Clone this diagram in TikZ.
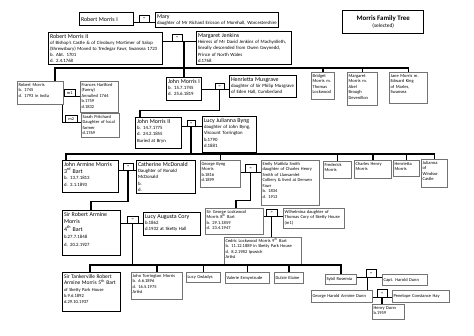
\documentclass[tikz,border=0pt]{standalone}
\usepackage{fontspec}
\setmainfont{Carlito}
\newcommand{\nm}{\fontsize{5.9}{6.2}\selectfont}

\begin{document}
\begin{tikzpicture}[x=1pt, y=-1pt,
    every node/.style={inner sep=1.3pt, anchor=north west, align=left},
    main/.style={draw, line width=1.4pt, text height=4.5pt, font=\fontsize{4.8}{6.2}\selectfont},
    side/.style={draw=black!55, line width=0.6pt, text height=3.5pt, font=\fontsize{4.5}{5.5}\selectfont},
    wed/.style={draw, line width=0.4pt, inner sep=0pt, align=center, minimum width=10pt, minimum height=7pt, font=\fontsize{4.3}{5}\selectfont},
    link/.style={line width=1.5pt}]
    \useasboundingbox (0,0) rectangle (474,335);

    % titul
    \node[main, text width=78.4pt, minimum height=23pt, align=center] (title) at (342,10)
        {{\fontsize{6.9}{8.5}\selectfont\bfseries Morris Family Tree}\\ {\fontsize{5.4}{6}\selectfont (selected)}};

    % první generace
    \node[main, text width=51.4pt, minimum height=13pt] (rm1) at (79,12) {\nm Robert Morris I};
    \node[wed] (eq1) at (139,15) {=};
    \node[main, text width=120.4pt, text depth=7.9pt] (mary) at (155,12)
        {{\nm Mary}\\ daughter of Mr Richard Ericson of Morehall, Worcestershire};

    \node[main, text width=111.4pt, text depth=24.9pt, font=\fontsize{4.8}{5.9}\selectfont] (rm2) at (48,32)
        {{\nm Robert Morris II}\\ of Bishop's Castle \& of Cleobury Mortimer of Salop\\ (Shrewsbury) Moved to Tredegar Fawr, Swansea 1723\\ b. Abt. 1701\\ d. 2.4.1768};
    \node[wed] (eq2) at (172,34) {=};
    \node[main, text width=92.4pt, text depth=25.9pt] (mj) at (196,31)
        {{\nm Margaret Jenkins}\\ Heiress of Mr David Jenkins of Machynlleth,\\ lineally descended from Owen Gwynedd,\\ Prince of North Wales\\ d.1768};

    % děti Roberta II
    \node[side, text width=43.4pt, text depth=16.9pt] (rm) at (17,81)
        {Robert Morris\\ b. 1745\\ d. 1793 in India};
    \node[wed, minimum width=11pt] (m1) at (64,89) {m1};
    \node[side, text width=35.4pt, text depth=24.9pt] (fh) at (80,81)
        {Frances Hartford\\ (Fanny)\\ Annulled 1764\\ b.1759\\ d.1832};
    \node[wed, minimum width=12pt] (m2) at (65,115) {m2};
    \node[side, text width=35.4pt, text depth=17.9pt] (sp) at (81,113)
        {Sarah Pritchard\\ Daughter of local\\ farmer\\ d.1769};

    \node[main, text width=32.4pt, text depth=15.9pt] (jm1) at (166,77)
        {{\nm John Morris I}\\ b. 15.7.1745\\ d. 25.6.1819};
    \node[wed, minimum width=9pt, minimum height=6pt] (eq3) at (215,83) {=};
    \node[main, text width=64.4pt, text depth=14.9pt] (hm) at (229,75)
        {{\nm Henrietta Musgrave}\\ daughter of Sir Philip Musgrave\\ of Eden Hall, Cumberland};

    \node[side, text width=20.4pt, text depth=20.9pt] (bm) at (311,72)
        {Bridget\\ Morris m.\\ Thomas\\ Lockwood};
    \node[side, text width=27.4pt, text depth=26.9pt] (mm) at (347,72)
        {Margaret\\ Morris m.\\ Abel\\ Brough\\ Devenillon};
    \node[side, text width=35.4pt, text depth=24.9pt] (jnm) at (389,72)
        {Jane Morris m.\\ Edward King\\ of Marles,\\ Swansea};

    % John Morris II
    \node[main, text width=43.4pt, text depth=23.9pt] (jm2) at (135,117)
        {{\nm John Morris II}\\ b. 14.7.1775\\ d. 24.2.1855\\ Buried at Bryn};
    \node[wed, minimum width=8pt, minimum height=6pt] (eq4) at (187,120) {=};
    \node[main, text width=51.4pt, text depth=28.9pt] (ljb) at (202,116)
        {{\nm Lucy Julianna Byng}\\ daughter of John Byng,\\ Viscount Torrington\\ b.1790\\ d.1881};

    % jejich děti
    \node[main, text width=53.4pt, text depth=24.9pt, font=\fontsize{4.8}{6.6}\selectfont] (jam) at (62,160)
        {{\nm John Armine Morris}\\ {\nm 3\textsuperscript{rd} Bart}\\ b. 13.7.1813\\ d. 3.1.1893};
    \node[wed] (eq5) at (123,163) {=};
    \node[main, text width=56.4pt, text depth=25.9pt] (cmd) at (136,160)
        {{\nm Catherine McDonald}\\ Daughter of Ronald\\ McDonald\\ b.\\ d.};
    \node[side, text width=37.4pt, text depth=20.9pt] (gbm) at (200,160)
        {George Byng\\ Morris\\ b.1816\\ d.1899};
    \node[wed, minimum width=11pt, minimum height=8pt] (eq6) at (245,164) {=};
    \node[side, text width=55.4pt, text depth=38.9pt] (ems) at (261,160)
        {Emily Matilda Smith\\ daughter of Charles Henry\\ Smith of Llansamlet\\ Colliery \& lived at Derwen\\ Fawr\\ b. 1834\\ d. 1913};
    \node[side, text width=25.4pt, text depth=10.9pt] (fm) at (323,161) {Frederick\\ Morris};
    \node[side, text width=34.4pt, text depth=11.9pt] (chm) at (354,160) {Charles Henry\\ Morris};
    \node[side, text width=23.4pt, text depth=9.9pt] (hm2) at (393,160) {Henrietta\\ Morris};
    \node[side, text width=23.4pt, text depth=21.9pt] (jw) at (421,159) {Julianna\\ of\\ Windsor\\ Castle};

    % další generace
    \node[main, text width=55.4pt, text depth=37.9pt, font=\fontsize{4.8}{7.4}\selectfont] (sra) at (62,210)
        {{\nm Sir Robert Armine}\\ {\nm Morris}\\ {\nm 4\textsuperscript{th} Bart}\\ b.27.7.1848\\ d. 20.2.1927};
    \node[wed, minimum width=11pt] (eq7) at (127,216) {=};
    \node[main, text width=54.4pt, text depth=15.9pt] (lac) at (143,212)
        {{\nm Lucy Augusta Cory}\\ b.1862\\ d.1932 at Sketty Hall};

    \node[side, text width=55.4pt, text depth=19.9pt] (sgm) at (205,208)
        {Sir George Lockwood\\ Morris 8\textsuperscript{th} Bart\\ b. 29.1.1859\\ d. 23.4.1947};
    \node[wed, minimum width=11pt] (eq8) at (266,209) {=};
    \node[side, text width=58.4pt, text depth=13.9pt] (wh) at (283,208)
        {Wilhelmina daughter of\\ Thomas Cory of Sketty House\\ (m1)};
    \node[side, text width=74.4pt, text depth=20.9pt] (clm) at (224,237)
        {Cedric Lockwood Morris 9\textsuperscript{th} Bart\\ b. 11.12.1889 in Sketty Park House\\ d. 8.2.1982 Ipswich\\ Artist};

    \node[main, text width=55.4pt, text depth=31.9pt, font=\fontsize{4.6}{6.3}\selectfont] (stm) at (62,272)
        {{\fontsize{5.5}{6}\selectfont Sir Tankerville Robert}\\ {\fontsize{5.5}{6}\selectfont Armine Morris 5\textsuperscript{th} Bart}\\ of Sketty Park House\\ b.9.6.1892\\ d.29.10.1937};
    \node[side, text width=48.4pt, text depth=20.9pt] (jtm) at (131,272)
        {John Torrington Morris\\ b. 6.6.1896\\ d. 16.5.1975\\ Artist};
    \node[side, text width=31.4pt, minimum height=10pt] (lg) at (186,272) {Lucy Gwladys};
    \node[side, text width=41.4pt, minimum height=11pt] (ve) at (225,272) {Valerie Ermyntrude};
    \node[side, text width=26.4pt, minimum height=11pt] (de) at (274,272) {Dulcie Elaine};
    \node[side, text width=28.4pt, minimum height=10pt] (sr) at (325,274) {Sybil Rosemia};

    \node[wed, minimum height=8pt] (eq9) at (366,269) {=};
    \node[side, text width=42.4pt, minimum height=11pt] (chd) at (382,274) {Capt. Harold Dunn};
    \node[side, text width=58.4pt, minimum height=12pt] (ghd) at (311,290) {George Harold Armine Dunn};
    \node[wed, minimum height=8pt] (eq10) at (377,289) {=};
    \node[side, text width=54.4pt, minimum height=12pt] (pch) at (392,290) {Penelope Constance Hay};
    \node[side, text width=29.4pt, text depth=8.9pt] (hd) at (372,304) {Henry Dunn\\ b.1959};

    % spojnice
    \coordinate (row1) at (0,68);
    \coordinate (row2) at (0,154);
    \coordinate (row3) at (0,265);

    \draw[link] (rm1.east |- eq1.south) -- (mary.west |- eq1.south);
    \draw[link] (rm2.east |- eq2.south) -- (mj.west |- eq2.south);
    \draw[link] (jm1.north |- eq2.south) -- (jm1.north);
    \draw[link] ([xshift=38pt]rm.north west) |- (jnm.north |- row1) -- (jnm.north);
    \foreach \k in {bm, mm}
        \draw[link] (\k.north) -- (\k.north |- row1);
    \draw[link] (rm.east |- m1.south) -- (fh.west |- m1.south);
    \draw[link] ([xshift=-1pt]rm.south east) |- (sp.west |- m2.south);

    \draw[link] (jm1.east |- eq3.south) -- (hm.west |- eq3.south);
    \draw[link] (eq3.south) -- ++(0,21) -| ([xshift=5pt]jm2.north west);
    \draw[link] (jm2.east |- eq4.south) -- (ljb.west |- eq4.south);
    \draw[link] (eq4.south) -- (eq4.south |- row2);
    \draw[link] ([xshift=4pt]jam.north west) |- (jw.north |- row2) -- (jw.north);
    \foreach \k in {gbm, fm, chm, hm2}
        \draw[link] (\k.north) -- (\k.north |- row2);

    \draw[link] (jam.east |- eq5.south) -- (cmd.west |- eq5.south);
    \draw[link] (eq5.south) -- ++(0,31) -| ([xshift=29pt]sra.north west);
    \draw[link] (gbm.east |- eq6.south) -- (ems.west |- eq6.south);
    \draw[link] (eq6.south) -- ++(0,28) -| ([xshift=31pt]sgm.north west);

    \draw[link] (sra.east |- eq7.south) -- (lac.west |- eq7.south);
    \draw[link] (eq7.south) -- (eq7.south |- row3);
    \draw[link] ([xshift=28pt]stm.north west) |- (sr.north |- row3) -- (sr.north);
    \foreach \k in {jtm, lg, ve, de}
        \draw[link] (\k.north) -- (\k.north |- row3);

    \draw[link] (sgm.east |- eq8.south) -- (wh.west |- eq8.south);
    \draw[link] (eq8.south) -- (eq8.south |- clm.north);

    \draw[link] (sr.east |- eq9.south) -- (chd.west |- eq9.south);
    \draw[link] ([xshift=1.5pt]eq9.south west) -- ([xshift=1.5pt]eq9.south west |- ghd.north);
    \draw[link] (ghd.east |- eq10.south) -- (pch.west |- eq10.south);
    \draw[link] (eq10.south) -- (eq10.south |- hd.north);

\end{tikzpicture}
\end{document}
